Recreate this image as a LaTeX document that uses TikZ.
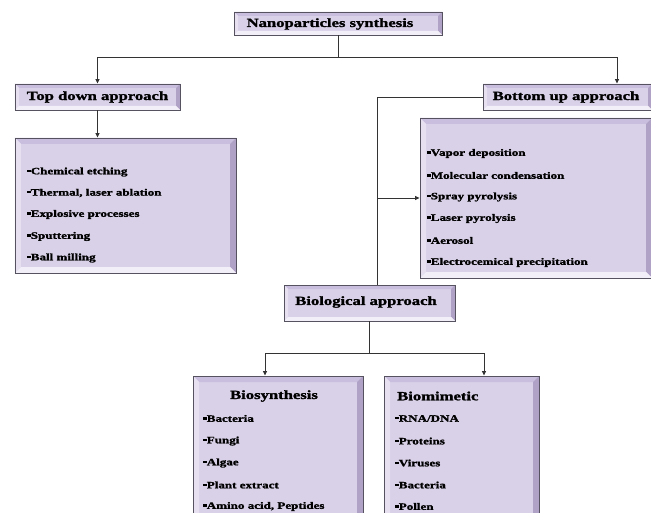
\documentclass[tikz,border=0pt]{standalone}
\usepackage{fontspec}
\setmainfont{Liberation Serif}[FakeStretch=1.33, BoldFeatures={FakeBold=1.6}]
\usetikzlibrary{arrows.meta,calc}
\definecolor{mainc}{HTML}{D9D1E8}
\definecolor{bevtop}{HTML}{C9BEDD}
\definecolor{bevleft}{HTML}{E6E0F1}
\definecolor{bevright}{HTML}{AFA2C6}
\definecolor{bevbot}{HTML}{F3EFF8}
\definecolor{bordc}{HTML}{57525F}
\definecolor{linec}{HTML}{333333}
\newcommand\bevelpic[1]{%
 \coordinate (bsw) at (path picture bounding box.south west);
 \coordinate (bne) at (path picture bounding box.north east);
 \coordinate (bnw) at (path picture bounding box.north west);
 \coordinate (bse) at (path picture bounding box.south east);
 \fill[bevtop] (bnw) -- (bne) -- ([shift={(-#1,-#1)}]bne) -- ([shift={(#1,-#1)}]bnw) -- cycle;
 \fill[bevleft] (bnw) -- (bsw) -- ([shift={(#1,#1)}]bsw) -- ([shift={(#1,-#1)}]bnw) -- cycle;
 \fill[bevright] (bne) -- (bse) -- ([shift={(-#1,#1)}]bse) -- ([shift={(-#1,-#1)}]bne) -- cycle;
 \fill[bevbot] (bsw) -- (bse) -- ([shift={(-#1,#1)}]bse) -- ([shift={(#1,#1)}]bsw) -- cycle;
}
\newcommand\itm{\rule[2.2bp]{3.6bp}{2.6bp}}
\tikzset{
  bevsmall/.style={rectangle, draw=bordc, line width=0.9bp, fill=mainc, inner sep=0pt,
    path picture={\bevelpic{4bp}}},
  bevbig/.style={rectangle, draw=bordc, line width=0.9bp, fill=mainc, inner sep=0pt,
    path picture={\bevelpic{6bp}}},
  ttl/.style={font=\fontsize{12.5bp}{14bp}\selectfont\bfseries, inner sep=0pt},
  item/.style={font=\fontsize{9.8bp}{11bp}\selectfont\bfseries, inner sep=0pt, anchor=west},
  conn/.style={draw=linec, line width=0.8bp},
  arr/.style={conn, -{Triangle[length=4.5bp,width=4bp]}}
}
\begin{document}
\begin{tikzpicture}[x=1bp,y=-1bp]
\useasboundingbox (0,0) rectangle (651,513);
\clip (0,0) rectangle (651,513);
\fill[white] (0,0) rectangle (651,513);

% boxes
\node[bevsmall, minimum width=208bp, minimum height=23bp] (ns) at (338,23.5) {};
\node[ttl] (nst) at (330,24) {Nanoparticles synthesis};
\node[bevsmall, minimum width=165bp, minimum height=26bp, ttl] (td) at (97.5,97) {Top down approach};
\node[bevsmall, minimum width=169bp, minimum height=26bp] (bu) at (567.5,97) {};
\node[ttl] (but) at (566,97) {Bottom up approach};
\node[bevbig, minimum width=221bp, minimum height=135bp] (tdl) at (125.5,205.5) {};
\node[bevbig, minimum width=232bp, minimum height=160bp] (bul) at (536,198) {};
\node[bevsmall, minimum width=171bp, minimum height=36bp] (bio) at (369.5,303) {};
\node[ttl] (biot) at (366,302) {Biological approach};
\node[bevbig, minimum width=170bp, minimum height=154bp] (bsy) at (278,453) {};
\node[bevbig, minimum width=155bp, minimum height=154bp] (bmm) at (461.5,453) {};

% top-down items
\node[item] (td1) at (27,172) {\itm Chemical etching};
\node[item] (td2) at (27,193) {\itm Thermal, laser ablation};
\node[item] (td3) at (27,214.5) {\itm Explosive processes};
\node[item] (td4) at (27,236.5) {\itm Sputtering};
\node[item] (td5) at (27,258) {\itm Ball milling};

% bottom-up items
\node[item] (bu1) at (427,153.5) {\itm Vapor deposition};
\node[item] (bu2) at (427,175.5) {\itm Molecular condensation};
\node[item] (bu3) at (427,197) {\itm Spray pyrolysis};
\node[item] (bu4) at (427,218.5) {\itm Laser pyrolysis};
\node[item] (bu5) at (427,240.5) {\itm Aerosol};
\node[item] (bu6) at (427,262.5) {\itm Electrocemical precipitation};

% biosynthesis
\node[ttl] (bsyt) at (274,396) {Biosynthesis};
\node[item] (bs1) at (203,418.5) {\itm Bacteria};
\node[item] (bs2) at (203,441) {\itm Fungi};
\node[item] (bs3) at (203,463) {\itm Algae};
\node[item] (bs4) at (203,485) {\itm Plant extract};
\node[item] (bs5) at (203,506.5) {\itm Amino acid, Peptides};

% biomimetic
\node[ttl, anchor=west] (bmmt) at (397,396) {Biomimetic};
\node[item] (bm1) at (395,418.5) {\itm RNA/DNA};
\node[item] (bm2) at (395,441) {\itm Proteins};
\node[item] (bm3) at (395,463) {\itm Viruses};
\node[item] (bm4) at (395,485) {\itm Bacteria};
\node[item] (bm5) at (395,506.5) {\itm Pollen};

% connectors
\coordinate (hub) at ($(ns.south)+(0,22)$);
\draw[conn] (ns.south) -- (hub);
\draw[arr] (hub) -| (td.north);
\draw[arr] (hub) -| ([xshift=49.5bp]bu.north);
\draw[arr] (td.south) -- (td.south |- tdl.north);
\coordinate (vl) at ([xshift=7.5bp]bio.north);
\draw[conn] (bu.west) -| (vl);
\draw[arr] (vl |- bul.west) -- (bul.west);
\coordinate (hub2) at ($(bio.south)+(0,32)$);
\draw[conn] (bio.south) -- (hub2);
\draw[arr] (hub2) -| ([xshift=-13bp]bsy.north);
\draw[arr] (hub2) -| ([xshift=22.5bp]bmm.north);
\end{tikzpicture}
\end{document}
